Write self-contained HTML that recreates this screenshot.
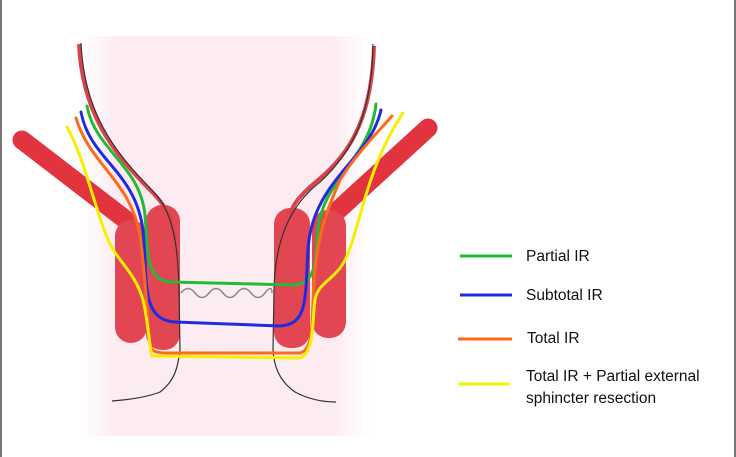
<!DOCTYPE html>
<html><head><style>
html,body{margin:0;padding:0;background:#fff;}
body{width:736px;height:457px;position:relative;overflow:hidden;font-family:"Liberation Sans",sans-serif;}
.b{position:absolute;top:0;bottom:0;width:2px;background:#777;}
.t{position:absolute;font-size:15.5px;color:#111;}
</style></head><body>
<div class="b" style="left:0"></div><div class="b" style="right:0"></div>
<svg width="736" height="457" style="position:absolute;left:0;top:0">
<defs>
<linearGradient id="fx" x1="0" x2="1" y1="0" y2="0"><stop offset="0" stop-color="#fdf0f4" stop-opacity="0"/><stop offset="0.12" stop-color="#fcecf1"/><stop offset="0.88" stop-color="#fcecf1"/><stop offset="1" stop-color="#fdf0f4" stop-opacity="0"/></linearGradient>
</defs>
<rect x="80" y="36" width="290" height="400" fill="url(#fx)"/>
<!-- levators -->
<line x1="22" y1="140" x2="126" y2="220" stroke="#e2343f" stroke-width="19" stroke-linecap="round"/>
<line x1="428" y1="128" x2="336" y2="212" stroke="#e2343f" stroke-width="19" stroke-linecap="round"/>
<!-- external sphincters -->
<rect x="115" y="220" width="32" height="123" rx="16" fill="#e24652"/>
<rect x="312" y="210" width="34" height="128" rx="16" fill="#e24652"/>
<!-- internal -->
<rect x="146" y="205" width="34" height="145" rx="16" fill="#e24652"/>
<rect x="274" y="208" width="36" height="140" rx="16" fill="#e24652"/>
<!-- walls red -->
<path d="M79,44 C82,110 110,150 150,190 C165,205 172,215 175,240" fill="none" stroke="#d9434d" stroke-width="4"/>
<path d="M374,46 C372,110 355,150 318,180 C300,195 292,205 290,215" fill="none" stroke="#d9434d" stroke-width="4"/>
<!-- walls black -->
<path d="M81,43 C84,110 112,150 152,190 C172,210 178,240 179,290 L180,350 C178,365 176,380 160,392 C145,398 125,400 112,401" fill="none" stroke="#333" stroke-width="1.2"/>
<path d="M373,44 C372,110 355,150 320,182 C290,205 275,240 274,290 L273,350 C274,365 278,380 295,392 C310,400 325,402 336,402" fill="none" stroke="#333" stroke-width="1.2"/>
<!-- wavy -->
<path d="M181,293 q7,-9 14,0 t14,0 t14,0 t14,0 t14,0 t14,0 t7,0" fill="none" stroke="#888" stroke-width="1.5"/>
<g fill="none" stroke-width="3" stroke-linecap="round">
<path d="M87,106 C95,150 140,165 145,215 C148,250 145,280 170,282 L295,285 C316,282 315,265 318,230 C322,180 370,160 376,104" stroke="#22bb33"/>
<path d="M81,112 C90,160 135,170 143,230 C148,280 140,320 175,322 L280,326 C308,324 305,300 308,250 C312,180 370,160 381,110" stroke="#1f2be0"/>
<path d="M76,118 C90,165 130,180 140,235 C146,280 148,330 150,345 C152,352 156,353 170,353 L300,353 C312,350 312,330 313,300 C315,240 325,215 340,180 C355,155 380,130 392,116" stroke="#ff6a1a"/>
<path d="M67,127 C85,160 92,200 108,240 C118,262 135,272 143,300 C148,320 149,345 152,356 L300,358 C315,352 312,320 315,300 C318,282 335,280 345,260 C360,230 365,170 403,113" stroke="#f5f000"/>
</g>
<g stroke-width="3">
<line x1="460" y1="256" x2="512" y2="256" stroke="#22bb33"/>
<line x1="460" y1="295" x2="512" y2="295" stroke="#1f2be0"/>
<line x1="458" y1="339" x2="512" y2="339" stroke="#ff6a1a"/>
<line x1="458" y1="384" x2="510" y2="384" stroke="#f5f000"/>
</g>
</svg>
<div class="t" style="left:526px;top:248px">Partial IR</div>
<div class="t" style="left:526px;top:287px">Subtotal IR</div>
<div class="t" style="left:527px;top:330px">Total IR</div>
<div class="t" style="left:526px;top:366px;line-height:22px">Total IR + Partial external<br>sphincter resection</div>
</body></html>
